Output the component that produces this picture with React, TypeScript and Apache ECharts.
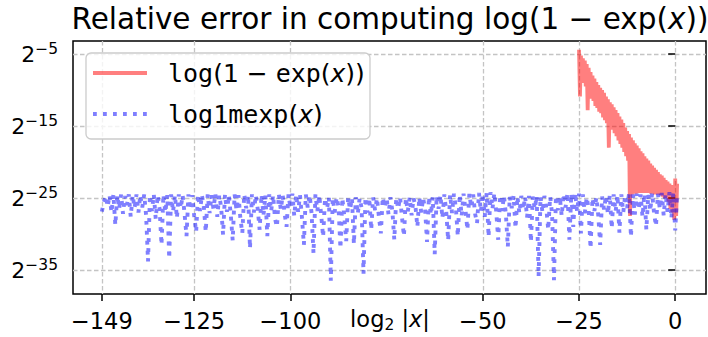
import React, { useEffect, useRef } from 'react';
import * as echarts from 'echarts';

const xTicks = [-149, -125, -100, -50, -25, 0];
const yTicks = [-35, -25, -15, -5]; // log2 of relative error

// log(1 - exp(x)) : zig-zag between an upper (at x) and lower (at x + 0.25) trace
const redX0 = -25;
const redStep = 0.5;
const redUpper = [
  -4.4, -5.2, -5.6, -5.9, -6.4, -6.9, -7.5, -8.0, -8.4, -8.9,
  -9.3, -9.7, -10.0, -10.4, -10.9, -11.3, -11.7, -12.0, -12.4, -12.8,
  -13.2, -13.7, -14.1, -14.6, -15.2, -15.7, -16.1, -16.6, -17.0, -17.4,
  -17.7, -18.1, -18.5, -18.8, -19.2, -19.5, -19.8, -20.2, -20.5, -20.8,
  -21.1, -21.4, -21.7, -21.9, -22.2, -22.5, -22.7, -23.0, -23.2, -23.4,
  -22.3, -23.0,
];
const redLower = [
  -10.9, -8.5, -9.0, -9.5, -12.8, -10.5, -11.2, -11.5, -12.2, -12.5,
  -13.0, -13.2, -13.8, -14.2, -14.6, -18.0, -15.2, -15.5, -16.0, -16.4,
  -17.0, -17.5, -18.0, -18.6, -19.2, -19.8, -27.5, -24.5, -21.0, -24.4,
  -22.0, -24.3, -22.5, -24.3, -23.5, -24.3, -24.0, -24.4, -24.2, -24.5,
  -24.3, -24.5, -24.6, -24.8, -25.0, -24.7, -25.5, -26.5, -27.0, -28.0,
  -27.5,
];

// log1mexp(x): values at x = -149, -148.5, ..., 0.5
const blueX0 = -149;
const blueStep = 0.5;
const blueLog2Err = [
  -26.9, -25.6, -24.7, -26.2, -24.6, -27.0, -24.5, -28.75, -24.6, -26.5,
  -24.5, -27.2, -24.7, -26.0, -24.5, -27.6, -24.6, -26.4, -24.5, -27.0,
  -24.6, -26.3, -24.5, -27.4, -33.8, -24.6, -26.8, -24.5, -27.9, -24.6,
  -26.5, -31.5, -24.5, -27.0, -24.6, -33.4, -24.5, -26.9, -24.6, -27.8,
  -24.5, -26.4, -24.6, -27.2, -30.3, -24.5, -26.6, -24.6, -27.5, -29.7,
  -24.5, -26.8, -24.6, -26.2, -29.7, -24.5, -27.1, -24.6, -26.5, -24.4,
  -27.6, -24.6, -26.3, -30.1, -24.5, -26.9, -24.6, -27.3, -30.9, -24.5,
  -26.7, -24.6, -27.8, -29.9, -24.5, -26.4, -24.6, -32.0, -24.5, -27.0,
  -24.6, -26.5, -29.4, -24.5, -27.4, -24.6, -30.3, -24.5, -26.8, -24.6,
  -27.9, -29.0, -24.5, -26.6, -24.6, -27.2, -29.0, -24.5, -26.4, -24.4,
  -27.5, -24.5, -26.9, -24.6, -27.7, -31.5, -24.5, -26.3, -24.6, -27.1,
  -32.7, -24.5, -26.8, -24.6, -27.4, -30.4, -25.0, -26.5, -24.9, -36.5,
  -25.0, -27.0, -24.9, -26.2, -32.0, -25.0, -27.5, -31.0, -24.9, -26.6,
  -25.0, -31.4, -24.9, -27.2, -25.0, -26.4, -35.5, -24.9, -27.0, -25.0,
  -29.4, -24.9, -26.7, -25.0, -27.6, -29.9, -24.9, -26.3, -25.0, -27.3,
  -24.9, -26.8, -30.8, -25.0, -26.5, -24.9, -27.7, -30.3, -25.0, -26.9,
  -24.9, -27.4, -25.0, -26.2, -29.0, -24.9, -27.0, -25.0, -26.6, -31.1,
  -24.8, -27.3, -24.9, -32.8, -24.7, -26.5, -24.6, -27.8, -24.5, -26.9,
  -30.9, -24.5, -27.1, -24.4, -26.4, -30.3, -24.5, -27.5, -24.4, -26.7,
  -29.4, -24.4, -26.3, -24.5, -27.2, -28.5, -24.3, -26.9, -24.4, -27.6,
  -24.3, -30.4, -24.2, -26.5, -24.3, -27.0, -30.8, -24.6, -26.8, -24.7,
  -27.3, -31.8, -24.8, -26.4, -24.7, -29.2, -24.8, -27.1, -24.7, -26.6,
  -24.8, -27.7, -24.7, -31.1, -24.8, -26.5, -24.7, -35.9, -24.8, -27.0,
  -24.7, -26.4, -29.4, -24.8, -27.2, -36.4, -24.7, -26.7, -24.8, -27.5,
  -24.4, -26.3, -24.3, -30.8, -24.4, -29.0, -24.3, -26.9, -24.4, -29.9,
  -24.5, -27.1, -24.9, -26.5, -32.0, -25.0, -26.8, -24.9, -27.4, -31.5,
  -24.8, -26.6, -24.7, -27.2, -24.6, -29.2, -24.5, -26.9, -24.6, -29.8,
  -24.5, -27.0, -24.6, -26.4, -24.4, -30.4, -24.5, -27.3, -24.4, -26.6,
  -24.5, -27.6, -24.4, -29.4, -24.5, -26.8, -24.3, -27.1, -28.9, -24.4,
  -26.5, -24.3, -27.4, -24.4, -26.9, -24.2, -27.8, -24.3, -29.5, -24.5,
];

const FONT = 'DejaVu Sans';
const MONO = 'DejaVu Sans Mono';
const minus = (v: number) => (v < 0 ? '\u2212' + Math.abs(v) : String(v));

export default function App() {
  const ref = useRef<HTMLDivElement>(null);
  useEffect(() => {
    if (!ref.current) return;
    const chart = echarts.init(ref.current, undefined, { renderer: 'svg' });

    const redData: number[][] = [];
    redUpper.forEach((u, i) => {
      const x = redX0 + i * redStep;
      redData.push([x, u]);
      if (i < redLower.length) redData.push([x + redStep / 2, redLower[i]]);
    });
    const blueData = blueLog2Err.map((v, i) => [blueX0 + i * blueStep, v]);

    const gridLine = { show: true, lineStyle: { color: '#c4c4c4', width: 1.3, type: [4.5, 2.5] as any } };
    const tick = { show: true, inside: false, length: 7, lineStyle: { color: '#000', width: 1.5 } };

    chart.setOption({
      animation: false,
      backgroundColor: '#ffffff',
      grid: {
        left: 73, right: 2, top: 41, bottom: 43,
        containLabel: false,
        outerBoundsMode: 'none',
        show: true, borderColor: '#000', borderWidth: 1.5, backgroundColor: 'transparent',
      },
      xAxis: {
        type: 'value', min: -156.5, max: 8,
        axisLine: { show: false },
        axisTick: { ...tick, customValues: xTicks },
        axisLabel: {
          customValues: xTicks, formatter: (v: number) => minus(v),
          color: '#000', fontFamily: FONT, fontSize: 22.5, margin: 15,
        },
        splitLine: gridLine,
      },
      yAxis: {
        type: 'value', min: -38.33, max: -3.19,
        axisLine: { show: false },
        axisTick: { ...tick, customValues: yTicks },
        axisLabel: {
          customValues: yTicks,
          formatter: (v: number) => `{b|2}{s|${minus(v)}}`,
          margin: 15,
          rich: {
            b: { fontFamily: FONT, fontSize: 22, color: '#000', lineHeight: 26 },
            s: { fontFamily: FONT, fontSize: 15.5, color: '#000', verticalAlign: 'top', lineHeight: 16 },
          },
        },
        splitLine: gridLine,
      },
      series: [
        {
          name: 'log(1 − exp(x))',
          type: 'line',
          data: redData,
          showSymbol: false,
          symbol: 'none',
          lineStyle: { color: '#ff0000', opacity: 0.5, width: 3.8, join: 'miter' },
          z: 2,
        },
        {
          name: 'log1mexp(x)',
          type: 'line',
          data: blueData,
          showSymbol: false,
          symbol: 'none',
          lineStyle: { color: '#0000ff', opacity: 0.5, width: 3.9, type: [3.9, 6.1], cap: 'butt' },
          z: 3,
        },
      ],
      graphic: [
        {
          type: 'text', x: 390, y: 19, z: 10,
          style: {
            text: '{a|Relative error in computing log(1 \u2212 exp(}{i|x}{a|))}',
            align: 'center', verticalAlign: 'middle',
            rich: {
              a: { fontFamily: FONT, fontSize: 29.5, fill: '#000' },
              i: { fontFamily: FONT, fontSize: 29.5, fontStyle: 'italic', fill: '#000' },
            },
          },
        },
        {
          type: 'text', x: 390, y: 319, z: 10,
          style: {
            text: '{a|log}{s|2}{a| |}{i|x}{a||}',
            align: 'center', verticalAlign: 'middle',
            rich: {
              a: { fontFamily: FONT, fontSize: 22.5, fill: '#000', lineHeight: 28 },
              s: { fontFamily: FONT, fontSize: 15.5, fill: '#000', verticalAlign: 'bottom', lineHeight: 16 },
              i: { fontFamily: FONT, fontSize: 22.5, fontStyle: 'italic', fill: '#000', lineHeight: 28 },
            },
          },
        },
        {
          type: 'rect', z: 100,
          shape: { x: 86, y: 53, width: 284, height: 86, r: 5 },
          style: { fill: 'rgba(255,255,255,0.8)', stroke: '#cccccc', lineWidth: 1.3 },
        },
        {
          type: 'line', z: 101,
          shape: { x1: 93, y1: 73, x2: 147, y2: 73 },
          style: { stroke: 'rgba(255,0,0,0.5)', lineWidth: 3.8 },
        },
        {
          type: 'line', z: 101,
          shape: { x1: 93, y1: 114, x2: 147, y2: 114 },
          style: { stroke: 'rgba(0,0,255,0.5)', lineWidth: 3.8, lineDash: [3.8, 6.2], lineCap: 'butt' },
        },
        {
          type: 'text', z: 101, x: 168, y: 73,
          style: {
            text: '{m|log}{r|(1 \u2212 }{m|exp}{r|(}{i|x}{r|))}',
            verticalAlign: 'middle',
            rich: {
              m: { fontFamily: MONO, fontSize: 25, fill: '#000' },
              r: { fontFamily: FONT, fontSize: 25, fill: '#000' },
              i: { fontFamily: FONT, fontSize: 25, fontStyle: 'italic', fill: '#000' },
            },
          },
        },
        {
          type: 'text', z: 101, x: 168, y: 114,
          style: {
            text: '{m|log1mexp}{r|(}{i|x}{r|)}',
            verticalAlign: 'middle',
            rich: {
              m: { fontFamily: MONO, fontSize: 25, fill: '#000' },
              r: { fontFamily: FONT, fontSize: 25, fill: '#000' },
              i: { fontFamily: FONT, fontSize: 25, fontStyle: 'italic', fill: '#000' },
            },
          },
        },
      ],
    });
    return () => chart.dispose();
  }, []);
  return <div ref={ref} style={{ width: 708, height: 337, position: 'absolute', left: 0, top: 0 }} />;
}
